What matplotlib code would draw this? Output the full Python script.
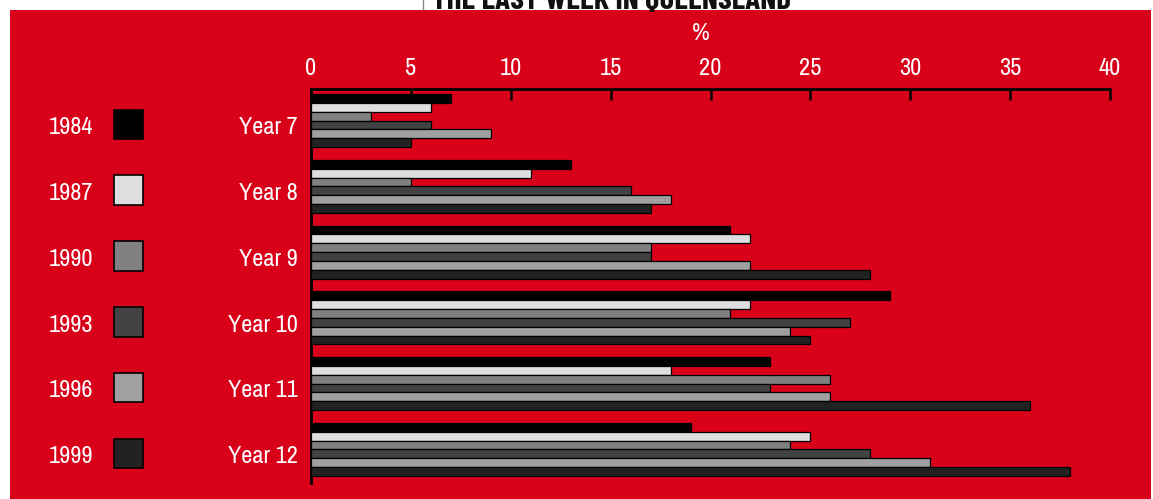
import numpy as np
import matplotlib
matplotlib.use("Agg")
import matplotlib.pyplot as plt
from matplotlib.patches import Rectangle
from matplotlib.transforms import blended_transform_factory

plt.rcParams["font.family"] = ["Archivo Narrow", "DejaVu Sans"]

# data
grades = ["Year 7", "Year 8", "Year 9", "Year 10", "Year 11", "Year 12"]
years = ["1984", "1987", "1990", "1993", "1996", "1999"]
v1984 = [7, 13, 21, 29, 23, 19]
v1987 = [6, 11, 22, 22, 18, 25]
v1990 = [3, 5, 17, 21, 26, 24]
v1993 = [6, 16, 17, 27, 23, 28]
v1996 = [9, 18, 22, 24, 26, 31]
v1999 = [5, 17, 28, 25, 36, 38]
series = [v1984, v1987, v1990, v1993, v1996, v1999]
colors = ["#000000", "#dedede", "#808080", "#424242", "#a0a0a0", "#222222"]
xticks = [0, 5, 10, 15, 20, 25, 30, 35, 40]

W, H = 1153, 499
RED = "#d9001a"
FS = 17.5

fig = plt.figure(figsize=(W / 100, H / 100), dpi=100, facecolor="white")

# red panel behind everything
fig.patches.append(Rectangle((10 / W, 0), (1151 - 10) / W, (H - 10) / H,
                             transform=fig.transFigure, facecolor=RED,
                             edgecolor="none", zorder=-10))

# clipped title at the very top
fig.text(432 / W, 1 - 9 / H, "THE LAST WEEK IN QUEENSLAND", ha="left",
         va="baseline", fontsize=22.5, fontweight="bold", color="#111111",
         family=["Barlow Condensed", "DejaVu Sans"], zorder=-5)
fig.add_artist(plt.Line2D([423 / W, 423 / W], [1 - 9 / H, 1], color="#888888",
                          lw=1, transform=fig.transFigure))

ax = fig.add_axes([311 / W, 1 - 483 / H, (1110 - 311) / W, (483 - 89) / H])
ax.set_facecolor("none")

n = len(series)
h = 0.134
y = np.arange(len(grades))
for j, (vals, c) in enumerate(zip(series, colors)):
    ax.barh(y + (j - (n - 1) / 2) * h, vals, height=h, color=c,
            edgecolor="black", linewidth=0.9, zorder=3)

ax.set_xlim(0, 40)
ax.set_ylim(5.51, -0.48)
ax.xaxis.tick_top()
ax.set_xticks(xticks)
ax.set_xticklabels([str(t) for t in xticks])
ax.tick_params(axis="x", direction="in", length=8, width=1.8, pad=7.5,
               labelsize=FS, labelcolor="white", color="black")
ax.set_yticks([])
for s in ["bottom", "right"]:
    ax.spines[s].set_visible(False)
for s in ["top", "left"]:
    ax.spines[s].set_linewidth(2)
    ax.spines[s].set_color("black")

fig.text(701 / W, 1 - 33 / H, "%", ha="center", va="center",
         fontsize=FS, color="white")

# grade labels and legend keyed to the same rows
tr = blended_transform_factory(fig.transFigure, ax.transData)
for i, g in enumerate(grades):
    ax.text(298 / W, y[i] + 0.11, g, transform=tr, ha="right", va="center",
            fontsize=FS, color="white", clip_on=False)
for i, (yr, c) in enumerate(zip(years, colors)):
    ax.text(93 / W, y[i] + 0.11, yr, transform=tr, ha="right", va="center",
            fontsize=FS, color="white", clip_on=False)
    ax.add_patch(Rectangle((114 / W, y[i] + 0.06 - 0.225), 29 / W, 0.45,
                           transform=tr, facecolor=c, edgecolor="black",
                           linewidth=1.2, clip_on=False))

fig.savefig("out.png", dpi=100, facecolor=fig.get_facecolor())
